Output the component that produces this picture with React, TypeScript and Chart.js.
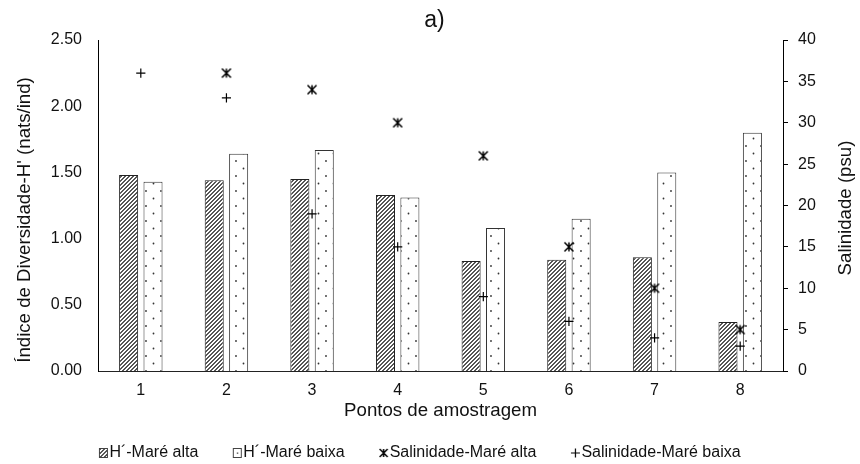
import React, { useEffect, useRef } from 'react';
import { Chart, registerables } from 'chart.js';

Chart.register(...registerables);

// ---- data ----
const categories = ['1', '2', '3', '4', '5', '6', '7', '8'];
const hMareAlta = [1.48, 1.44, 1.45, 1.33, 0.83, 0.84, 0.86, 0.37];
const hMareBaixa = [1.43, 1.64, 1.67, 1.31, 1.08, 1.15, 1.5, 1.8];
const salMareAlta = [null, 36, 34, 30, 26, 15, 10, 5];
const salMareBaixa = [36, 33, 19, 15, 9, 6, 4, 3];
const seriesNames = ['H´-Maré alta', 'H´-Maré baixa', 'Salinidade-Maré alta', 'Salinidade-Maré baixa'];
const leftAxisRange = [0, 2.5, 0.5];
const rightAxisRange = [0, 40, 5];
const titleText = 'a)';
const xTitle = 'Pontos de amostragem';
const yLeftTitle = "Índice de Diversidade-H' (nats/ind)";
const yRightTitle = 'Salinidade (psu)';

const FONT = "'Liberation Sans', Arial, sans-serif";
const TEXT = '#111';
const LEGEND_SHIFT = -14;
const AXIS_TITLE_SIZE = 18.67;

function mk(w: number, h: number) {
  const c = document.createElement('canvas');
  c.width = w;
  c.height = h;
  return c;
}

function hatchTile() {
  const c = mk(4, 4);
  const g = c.getContext('2d')!;
  g.fillStyle = '#fff';
  g.fillRect(0, 0, 4, 4);
  g.fillStyle = '#555';
  for (let x = 0; x < 4; x++)
    for (let y = 0; y < 4; y++) if ((x + y) % 4 === 0 || (x + y) % 4 === 1) g.fillRect(x, y, 1, 1);
  return c;
}

function dotTile() {
  const c = mk(15, 15);
  const g = c.getContext('2d')!;
  g.fillStyle = '#fff';
  g.fillRect(0, 0, 15, 15);
  g.fillStyle = '#333';
  g.beginPath();
  g.arc(3.5, 3.5, 0.9, 0, Math.PI * 2);
  g.arc(11, 11, 0.9, 0, Math.PI * 2);
  g.fill();
  return c;
}

function asterisk(g: CanvasRenderingContext2D, cx: number, cy: number, r: number) {
  g.strokeStyle = '#000';
  g.lineWidth = 1.5;
  g.beginPath();
  g.moveTo(cx - r, cy - r);
  g.lineTo(cx + r, cy + r);
  g.moveTo(cx + r, cy - r);
  g.lineTo(cx - r, cy + r);
  g.moveTo(cx, cy - r);
  g.lineTo(cx, cy + r);
  g.stroke();
}

function plus(g: CanvasRenderingContext2D, cx: number, cy: number, r: number) {
  g.strokeStyle = '#000';
  g.lineWidth = 1.2;
  g.beginPath();
  g.moveTo(cx - r, cy);
  g.lineTo(cx + r, cy);
  g.moveTo(cx, cy - r);
  g.lineTo(cx, cy + r);
  g.stroke();
}

function asteriskImg() {
  const c = mk(12, 12);
  asterisk(c.getContext('2d')!, 6, 6, 4.5);
  return c;
}

function legendImg(kind: number) {
  const c = mk(24, 12);
  const g = c.getContext('2d')!;
  const cx = 14;
  if (kind === 0 || kind === 1) {
    if (kind === 0) {
      g.fillStyle = g.createPattern(hatchTile(), 'repeat')!;
      g.fillRect(10, 1.5, 9, 9);
    } else {
      g.fillStyle = '#fff';
      g.fillRect(10, 1.5, 9, 9);
      g.fillStyle = '#333';
      g.fillRect(14, 5.5, 1.3, 1.3);
    }
    g.strokeStyle = '#444';
    g.lineWidth = 1;
    g.strokeRect(10.5, 1.5, 8, 9);
  } else if (kind === 2) {
    asterisk(g, cx + 0.5, 6, 4);
  } else {
    plus(g, cx + 0.5, 6, 4.5);
  }
  return c;
}

const legendShiftPlugin = {
  id: 'legendShift',
  afterLayout(chart: any) {
    const l = chart.legend;
    if (l) {
      l.left += LEGEND_SHIFT;
      l.right += LEGEND_SHIFT;
    }
  },
};

function drawVerticalTitle(ctx: CanvasRenderingContext2D, text: string, x: number, y: number) {
  ctx.save();
  ctx.translate(x, y);
  ctx.rotate(-Math.PI / 2);
  ctx.font = `${AXIS_TITLE_SIZE}px ${FONT}`;
  ctx.fillStyle = TEXT;
  ctx.textAlign = 'center';
  ctx.textBaseline = 'middle';
  ctx.fillText(text, 0, 0);
  ctx.restore();
}

const axisTitlesPlugin = {
  id: 'axisTitles',
  afterDraw(chart: any) {
    const { ctx } = chart;
    drawVerticalTitle(ctx, yLeftTitle, 25, 220);
    drawVerticalTitle(ctx, yRightTitle, 846, 208);
  },
};

export default function App() {
  const ref = useRef<HTMLCanvasElement>(null);

  useEffect(() => {
    const canvas = ref.current!;
    const ctx = canvas.getContext('2d')!;
    const hatch = ctx.createPattern(hatchTile(), 'repeat')!;
    const dots = ctx.createPattern(dotTile(), 'repeat')!;
    const legendImgs = [0, 1, 2, 3].map(legendImg);

    const chart = new Chart(canvas, {
      type: 'bar',
      data: {
        labels: categories,
        datasets: [
          {
            type: 'line',
            label: seriesNames[2],
            data: salMareAlta,
            yAxisID: 'y1',
            showLine: false,
            pointStyle: asteriskImg(),
            pointRadius: 5,
            order: 0,
          } as any,
          {
            type: 'line',
            label: seriesNames[3],
            data: salMareBaixa,
            yAxisID: 'y1',
            showLine: false,
            pointStyle: 'cross',
            pointRadius: 4.6,
            pointBorderWidth: 1.2,
            pointBorderColor: '#000',
            order: 0,
          } as any,
          {
            type: 'bar',
            label: seriesNames[0],
            data: hMareAlta,
            yAxisID: 'y',
            backgroundColor: hatch,
            borderColor: '#222',
            borderWidth: 1,
            categoryPercentage: 0.57,
            barPercentage: 0.78,
            order: 1,
          },
          {
            type: 'bar',
            label: seriesNames[1],
            data: hMareBaixa,
            yAxisID: 'y',
            backgroundColor: dots,
            borderColor: '#333',
            borderWidth: 1,
            categoryPercentage: 0.57,
            barPercentage: 0.78,
            order: 1,
          },
        ],
      },
      options: {
        responsive: false,
        animation: false,
        devicePixelRatio: 1,
        layout: { padding: { left: 9, right: 0, top: 0, bottom: -7 } },
        font: { family: FONT, size: 16 },
        color: TEXT,
        plugins: {
          tooltip: { enabled: false },
          title: {
            display: true,
            text: titleText,
            color: TEXT,
            font: { family: FONT, size: 23, weight: 'normal' },
            padding: { top: 6.7, bottom: 5.7 },
          },
          legend: {
            position: 'bottom',
            labels: {
              usePointStyle: true,
              boxWidth: 1,
              padding: 36,
              color: TEXT,
              font: { family: FONT, size: 16 },
              generateLabels: () =>
                seriesNames.map((t, i) => ({
                  text: t,
                  pointStyle: legendImgs[i],
                  fillStyle: 'transparent',
                  strokeStyle: 'transparent',
                  lineWidth: 0,
                  hidden: false,
                  datasetIndex: i,
                  fontColor: TEXT,
                })),
            },
          },
        },
        scales: {
          x: {
            type: 'category',
            grid: { display: false, drawTicks: false },
            border: { display: true, color: '#222', width: 1 },
            ticks: { color: TEXT, padding: 10, font: { family: FONT, size: 16 } },
            title: {
              display: true,
              text: xTitle,
              color: TEXT,
              font: { family: FONT, size: AXIS_TITLE_SIZE },
              padding: { top: 0, bottom: -13.2 },
            },
            afterFit: (s: any) => {
              s.height = 38;
            },
          },
          y: {
            position: 'left',
            min: leftAxisRange[0],
            max: leftAxisRange[1],
            grid: { display: false, drawTicks: false },
            border: { display: true, color: '#000', width: 1 },
            ticks: {
              stepSize: leftAxisRange[2],
              padding: 16,
              color: TEXT,
              font: { family: FONT, size: 16 },
              callback: (v: any) => Number(v).toFixed(2),
            },
            title: { display: false },
            afterFit: (s: any) => {
              s.width = 89;
            },
          },
          y1: {
            position: 'right',
            min: rightAxisRange[0],
            max: rightAxisRange[1],
            grid: { display: true, drawOnChartArea: false, drawTicks: true, tickLength: 5, color: '#000' },
            border: { display: true, color: '#000', width: 1 },
            ticks: {
              stepSize: rightAxisRange[2],
              padding: 10,
              color: TEXT,
              font: { family: FONT, size: 16 },
            },
            title: { display: false },
            afterFit: (s: any) => {
              s.width = 77;
            },
          },
        },
      },
      plugins: [legendShiftPlugin, axisTitlesPlugin],
    } as any);

    return () => chart.destroy();
  }, []);

  return (
    <div style={{ position: 'fixed', left: 0, top: 0, width: 860, height: 464, background: '#fff' }}>
      <canvas ref={ref} width={860} height={464} style={{ display: 'block', width: 860, height: 464 }} />
    </div>
  );
}
